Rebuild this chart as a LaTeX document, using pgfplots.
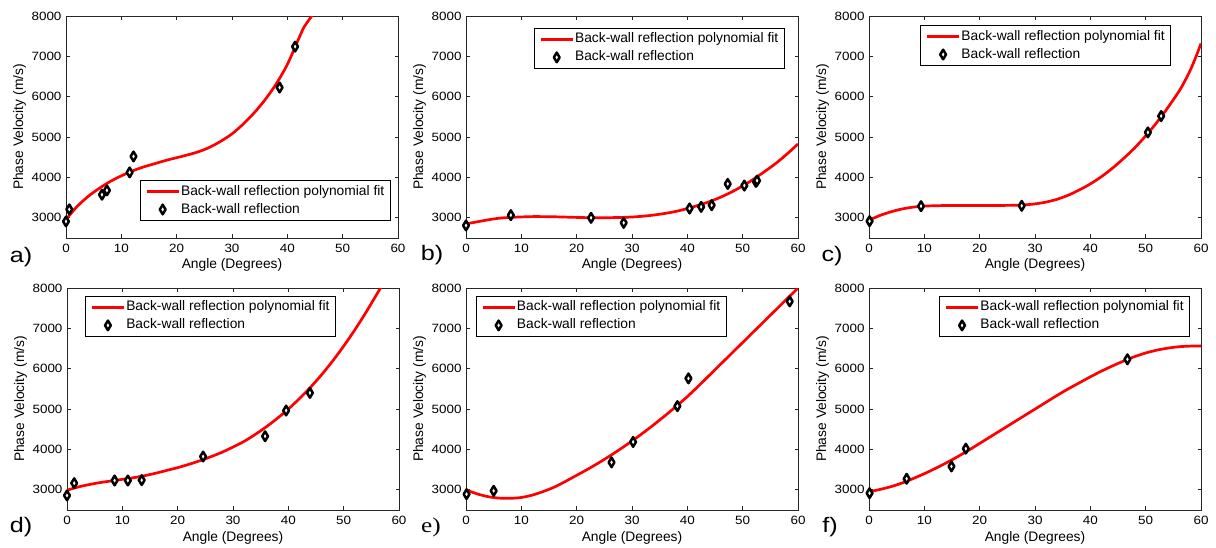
\documentclass[border=0pt]{standalone}
\usepackage{fontspec}
\setmainfont{Liberation Sans}
\newfontfamily\tickfont{Liberation Sans}[FakeStretch=1.12]
\newfontfamily\panelfont{Liberation Sans}[FakeStretch=1.2]
\newfontfamily\serifpanel{Liberation Serif}[FakeStretch=1.2]
\usepackage{pgfplots}
\pgfplotsset{compat=1.18}

\pgfplotsset{
 panel/.style={
  scale only axis, width=332bp, height=222bp,
  anchor=south west,
  xmin=0,xmax=60,ymin=2500,ymax=8000,
  xtick={0,10,...,60}, ytick={3000,4000,...,8000},
  tick align=inside, major tick length=3.5bp,
  axis line style={line width=0.8bp, black!85},
  every tick/.style={black!85, line width=0.8bp},
  /pgf/number format/assume math mode=true,
  /pgf/number format/1000 sep={},
  tick label style={font=\tickfont\fontsize{12bp}{14bp}\selectfont},
  xticklabel style={yshift=-3bp},
  yticklabel style={xshift=-1bp},
  clip mode=individual,
  legend cell align=left,
  legend style={font=\fontsize{13.8bp}{16bp}\selectfont, draw=black, line width=0.8bp,
    inner xsep=5bp, inner ysep=3.5bp, row sep=3bp, fill=white,
    nodes={text height=10bp, text depth=3bp, inner sep=1bp}},
  legend image code/.code={\draw[mark repeat=2,mark phase=2,##1] plot coordinates {(0bp,0bp) (16bp,0bp) (32bp,0bp)};},
 },
 fitline/.style={red, line width=2.7bp, smooth, no markers},
 pts/.style={only marks, mark=diamond*, mark size=4.8bp, mark options={fill=white, draw=black, line width=2.5bp, line join=round, xscale=0.8}},
}
\newcommand{\axlabels}[4]{%
  \node[rotate=90, anchor=base, font=\fontsize{13.8bp}{16bp}\selectfont] at ([xshift=-43bp]rel axis cs:0,0.5) {Phase Velocity (m/s)};
  \node[anchor=base, font=\fontsize{13.8bp}{16bp}\selectfont] at ([yshift=-31bp]rel axis cs:0.5,0) {Angle (Degrees)};
  \node[anchor=center, font=#4\fontsize{21bp}{24bp}\selectfont] at ([xshift=#2,yshift=#3]rel axis cs:0,0) {#1};
}

\begin{document}
\begin{tikzpicture}
\useasboundingbox (0,0) rectangle (1216bp,548bp);

% ---------- a ----------
\begin{axis}[panel, at={(66bp,310bp)},
  legend style={at={(0.978,0.077)}, anchor=south east}]
\addplot[fitline] coordinates {(0,2960) (2,3280) (4,3530) (6,3730) (8,3900) (10,4040) (12,4160) (14,4260) (16,4340) (18,4420) (20,4490) (22,4560) (24,4640) (26,4750) (28,4900) (30,5080) (32,5320) (34,5600) (36,5930) (38,6320) (40,6800) (42,7420) (43,7720) (44.4,8000) (45,8150)};
\addlegendentry{Back-wall reflection polynomial fit}
\addplot[pts] coordinates {(0,2910) (0.6,3210) (6.5,3573) (7.4,3680) (11.5,4125) (12.2,4521) (38.6,6228) (41.4,7242)};
\addlegendentry{Back-wall reflection}
\axlabels{a)}{-45bp}{-19bp}{\panelfont}
\end{axis}

% ---------- b ----------
\begin{axis}[panel, at={(466bp,310bp)},
  legend style={at={(0.96,0.946)}, anchor=north east}]
\addplot[fitline] coordinates {(0,2850) (2,2900) (4,2950) (6,2990) (8,3010) (12,3030) (16,3025) (20,3010) (24,3000) (28,3010) (30,3020) (32,3040) (34,3070) (36,3110) (38,3160) (40,3230) (42,3310) (44,3400) (46,3510) (48,3640) (50,3790) (52,3960) (54,4150) (56,4350) (58,4580) (60,4830)};
\addlegendentry{Back-wall reflection polynomial fit}
\addplot[pts] coordinates {(0,2810) (8.1,3066) (22.6,3000) (28.5,2876) (40.4,3231) (42.5,3272) (44.4,3313) (47.3,3840) (50.3,3799) (52.4,3890) (52.6,3922)};
\addlegendentry{Back-wall reflection}
\axlabels{b)}{-34bp}{-17bp}{\panelfont}
\end{axis}

% ---------- c ----------
\begin{axis}[panel, at={(869bp,310bp)},
  legend style={at={(0.91,0.959)}, anchor=north east}]
\addplot[fitline] coordinates {(0,2940) (2,3060) (4,3150) (6,3220) (8,3265) (10,3290) (14,3305) (18,3305) (22,3305) (26,3310) (28,3320) (30,3345) (32,3390) (34,3460) (36,3560) (38,3690) (40,3840) (42,4020) (44,4230) (46,4470) (48,4730) (50,5030) (52,5360) (54,5730) (56,6130) (57,6370) (58,6640) (59,6960) (60,7320)};
\addlegendentry{Back-wall reflection polynomial fit}
\addplot[pts] coordinates {(0.1,2917) (9.4,3289) (27.6,3298) (50.4,5116) (52.8,5521)};
\addlegendentry{Back-wall reflection}
\axlabels{c)}{-37bp}{-18bp}{\panelfont}
\end{axis}

% ---------- d ----------
\begin{axis}[panel, at={(67bp,38bp)},
  legend style={at={(0.81,0.964)}, anchor=north east}]
\addplot[fitline] coordinates {(0,2990) (2,3070) (4,3130) (6,3180) (8,3220) (10,3260) (12,3300) (14,3350) (16,3410) (18,3480) (20,3550) (22,3630) (24,3720) (26,3820) (28,3930) (30,4060) (32,4200) (34,4370) (36,4560) (38,4770) (40,5000) (42,5260) (44,5540) (46,5850) (48,6190) (50,6560) (52,6960) (54,7390) (56,7850) (57,8080)};
\addlegendentry{Back-wall reflection polynomial fit}
\addplot[pts] coordinates {(0,2860) (1.3,3165) (8.6,3231) (11.0,3231) (13.5,3240) (24.6,3825) (35.8,4328) (39.6,4964) (43.9,5401)};
\addlegendentry{Back-wall reflection}
\axlabels{d)}{-46bp}{-17bp}{\panelfont}
\end{axis}

% ---------- e ----------
\begin{axis}[panel, at={(466bp,38bp)},
  legend style={at={(0.785,0.964)}, anchor=north east}]
\addplot[fitline] coordinates {(0,3000) (2,2900) (4,2830) (6,2795) (8,2790) (10,2810) (12,2870) (14,2960) (16,3070) (18,3210) (20,3360) (22,3510) (24,3670) (26,3840) (28,4020) (30,4210) (32,4410) (34,4620) (36,4840) (38,5070) (40,5310) (42,5570) (44,5840) (46,6110) (48,6380) (50,6650) (52,6920) (54,7190) (56,7460) (58,7730) (60,8000)};
\addlegendentry{Back-wall reflection polynomial fit}
\addplot[pts] coordinates {(0.1,2892) (5.0,2975) (26.3,3680) (30.2,4186) (38.2,5073) (40.2,5761) (58.5,7668)};
\addlegendentry{Back-wall reflection}
\axlabels{e)}{-35bp}{-17bp}{\serifpanel}
\end{axis}

% ---------- f ----------
\begin{axis}[panel, at={(869bp,38bp)},
  legend style={at={(0.967,0.964)}, anchor=north east}]
\addplot[fitline] coordinates {(0,2950) (2,3010) (4,3080) (6,3170) (8,3280) (10,3400) (12,3530) (14,3670) (16,3820) (18,3980) (20,4150) (22,4320) (24,4490) (26,4660) (28,4830) (30,5000) (32,5170) (34,5340) (36,5500) (38,5650) (40,5800) (42,5940) (44,6070) (46,6190) (48,6300) (50,6390) (52,6460) (54,6510) (56,6545) (58,6560) (60,6565)};
\addlegendentry{Back-wall reflection polynomial fit}
\addplot[pts] coordinates {(0.1,2917) (6.8,3274) (14.9,3580) (17.5,4020) (46.7,6234)};
\addlegendentry{Back-wall reflection}
\axlabels{f)}{-39bp}{-17bp}{\panelfont}
\end{axis}
\end{tikzpicture}
\end{document}
